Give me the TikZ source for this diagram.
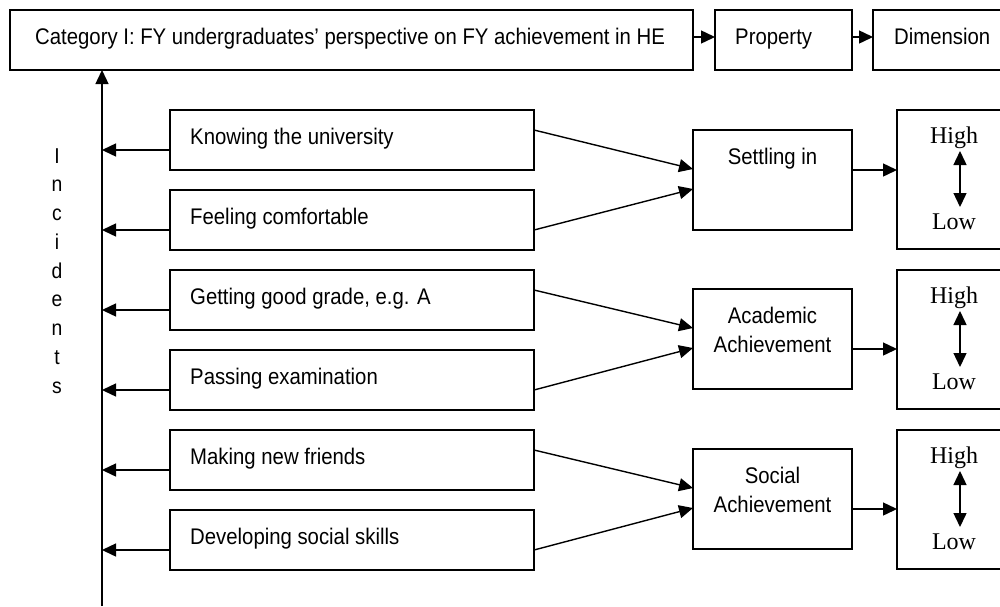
\documentclass[tikz,border=0pt]{standalone}
\usepackage{fontspec}
\setmainfont{Liberation Sans}[FakeStretch=0.9]
\newfontfamily\hlfont{Liberation Serif}
\usetikzlibrary{arrows.meta}
\begin{document}
\begin{tikzpicture}[x=1pt,y=-1pt,
  box/.style={draw,line width=1.4pt,anchor=north west,inner sep=0pt,outer sep=0pt},
  arr/.style={line width=1.4pt,-{Triangle[length=14pt,width=13pt]}},
  dbl/.style={line width=1.4pt,{Triangle[length=14pt,width=13pt]}-{Triangle[length=14pt,width=13pt]}},
  txt/.style={font=\fontsize{22.6}{26}\selectfont,inner sep=0pt},
  inc/.style={font=\fontsize{21.5}{25}\selectfont,inner sep=0pt,anchor=base},
  hl/.style={font=\hlfont\fontsize{24}{28}\selectfont,inner sep=0pt,anchor=base}]
\clip (0,0) rectangle (1000,606);
\fill[white] (0,0) rectangle (1000,606);

% top row
\node[box,minimum width=683pt,minimum height=60pt] (cat) at (10,10) {};
\node[txt,anchor=base west] (catt) at (35,44) {Category I: FY undergraduates’ perspective on FY achievement in HE};
\node[box,minimum width=137pt,minimum height=60pt] (prop) at (715,10) {};
\node[txt,anchor=base west] (propt) at (735,44) {Property};
\node[box,minimum width=140pt,minimum height=60pt] (dim) at (873,10) {};
\node[txt,anchor=base west] (dimt) at (894,44) {Dimension};
\draw[arr] ([yshift=3pt]cat.east) -- ([yshift=3pt]prop.west);
\draw[arr] ([yshift=3pt]prop.east) -- ([yshift=3pt]dim.west);

% axis
\coordinate (axbot) at (102,606);
\draw[arr] (axbot) -- (axbot |- cat.south);

% Incidents letters
\foreach \c [count=\k] in {I,n,c,i,d,e,n,t,s}
  \node[inc] (inc\k) at (57,{163+(\k-1)*28.75}) {\c};

% incident boxes
\foreach \i/\t/\s in {1/110/Knowing the university,2/190/Feeling comfortable,3/270/{Getting good grade, e.g. A},4/350/Passing examination,5/430/Making new friends,6/510/Developing social skills}{
  \node[box,minimum width=364pt,minimum height=60pt] (b\i) at (170,\t) {};
  \node[txt,anchor=base west] (bt\i) at (190,\t+34.5) {\s};
  \coordinate (a\i) at (102,\t+40);
  \draw[arr] (b\i.west |- a\i) -- (a\i);
}

% property boxes
\node[box,minimum width=159pt,minimum height=100pt] (p1) at (693,130) {};
\node[txt,anchor=base] (p1t) at (772.5,164) {Settling in};
\node[box,minimum width=159pt,minimum height=100pt] (p2) at (693,289) {};
\node[txt,anchor=base] (p2t) at (772.5,323) {Academic};
\node[txt,anchor=base] (p2u) at (772.5,352) {Achievement};
\node[box,minimum width=159pt,minimum height=100pt] (p3) at (693,449) {};
\node[txt,anchor=base] (p3t) at (772.5,483) {Social};
\node[txt,anchor=base] (p3u) at (772.5,512) {Achievement};

% incidents -> properties
\draw[arr] ([yshift=-20pt]b1.north east) -- ([yshift=-39pt]p1.north west);
\draw[arr] ([yshift=20pt]b2.south east) -- ([yshift=-59pt]p1.north west);
\draw[arr] ([yshift=-20pt]b3.north east) -- ([yshift=-39pt]p2.north west);
\draw[arr] ([yshift=20pt]b4.south east) -- ([yshift=-59pt]p2.north west);
\draw[arr] ([yshift=-20pt]b5.north east) -- ([yshift=-39pt]p3.north west);
\draw[arr] ([yshift=20pt]b6.south east) -- ([yshift=-59pt]p3.north west);

% dimension boxes
\foreach \j/\t in {1/110,2/270,3/430}{
  \node[box,minimum width=113pt,minimum height=139pt] (d\j) at (897,\t) {};
  \node[hl] (hi\j) at (954,\t+33) {High};
  \node[hl] (lo\j) at (954,\t+119) {Low};
  \coordinate (h\j) at (960,\t+41);
  \coordinate (l\j) at (960,\t+97);
  \draw[dbl] (h\j) -- (l\j);
}

% properties -> dimensions
\coordinate (s1) at ([yshift=-40pt]p1.north east);
\draw[arr] (s1) -- (s1 -| d1.west);
\coordinate (s2) at ([yshift=-60pt]p2.north east);
\draw[arr] (s2) -- (s2 -| d2.west);
\coordinate (s3) at ([yshift=-60pt]p3.north east);
\draw[arr] (s3) -- (s3 -| d3.west);
\end{tikzpicture}
\end{document}
